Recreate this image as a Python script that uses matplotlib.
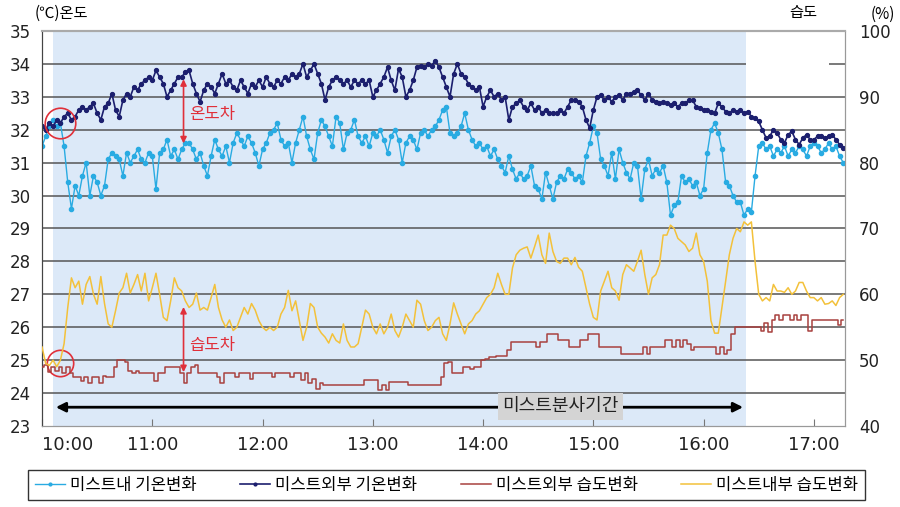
import numpy as np
import matplotlib
matplotlib.use("Agg")
import matplotlib.pyplot as plt

plt.rcParams['font.family'] = ['Noto Sans CJK KR', 'DejaVu Sans']
plt.rcParams['axes.unicode_minus'] = False

# 2분 간격 측정값 (10:00 ~ 17:16)
minutes = np.arange(0, 438, 2)

# 미스트외부 기온 (℃)
temp_out = [
    32.1, 32.0, 32.2, 32.1, 32.3, 32.2, 32.4, 32.5, 32.3, 32.4,
    32.6, 32.7, 32.6, 32.7, 32.8, 32.5, 32.3, 32.7, 32.8, 33.1,
    32.6, 32.4, 32.9, 33.1, 33.0, 33.3, 33.2, 33.4, 33.5, 33.6,
    33.5, 33.8, 33.6, 33.4, 33.0, 33.2, 33.4, 33.6, 33.6, 33.75,
    33.8, 33.4, 33.1, 32.85, 33.2, 33.4, 33.3, 33.1, 33.4, 33.7,
    33.4, 33.5, 33.3, 33.2, 33.5, 33.3, 33.1, 33.4, 33.3, 33.5,
    33.3, 33.6, 33.4, 33.3, 33.5, 33.4, 33.6, 33.5, 33.7, 33.6,
    33.7, 34.0, 33.6, 33.8, 34.0, 33.7, 33.4, 32.9, 33.3, 33.5,
    33.6, 33.5, 33.4, 33.5, 33.3, 33.5, 33.4, 33.5, 33.4, 33.5,
    33.0, 33.2, 33.4, 33.6, 33.9, 33.5, 33.2, 33.85, 33.6, 33.0,
    33.2, 33.5, 33.9, 33.95, 33.9, 34.0, 33.95, 34.1, 33.9, 33.6,
    33.3, 33.0, 33.7, 34.0, 33.7, 33.6, 33.4, 33.3, 33.2, 33.3,
    32.7, 33.0, 33.2, 33.0, 33.1, 32.9, 33.0, 32.3, 32.7, 32.8,
    32.9, 32.7, 32.6, 32.8, 32.6, 32.7, 32.5, 32.6, 32.5, 32.5,
    32.5, 32.6, 32.5, 32.7, 32.9, 32.9, 32.85, 32.7, 32.3, 32.05,
    32.6, 33.0, 33.05, 32.9, 33.0, 32.85, 33.0, 33.05, 32.9, 33.1,
    33.1, 33.15, 33.2, 33.05, 32.9, 33.1, 32.9, 32.85, 32.8, 32.85,
    32.8, 32.75, 32.8, 32.7, 32.8, 32.8, 32.9, 32.9, 32.7, 32.65,
    32.6, 32.6, 32.55, 32.5, 32.8, 32.7, 32.55, 32.5, 32.6, 32.55,
    32.6, 32.5, 32.55, 32.4, 32.35, 32.25, 32.0, 31.75, 31.8, 32.0,
    31.9, 31.7, 31.6, 31.85, 31.95, 31.7, 31.55, 31.75, 31.85, 31.7,
    31.7, 31.8, 31.8, 31.75, 31.8, 31.85, 31.7, 31.55, 31.45,
]

# 미스트내 기온 (℃)
temp_in = [
    31.5, 31.8, 32.1, 32.3, 32.1, 32.2, 31.5, 30.4, 29.6, 30.3,
    30.0, 30.6, 31.0, 30.0, 30.6, 30.4, 30.0, 30.3, 31.1, 31.3,
    31.2, 31.1, 30.6, 31.3, 31.0, 31.2, 31.4, 31.1, 31.0, 31.3,
    31.2, 30.2, 31.3, 31.4, 31.7, 31.2, 31.4, 31.1, 31.4, 31.6,
    31.6, 31.4, 31.1, 31.3, 30.9, 30.6, 31.2, 31.7, 31.4, 31.2,
    31.5, 31.0, 31.6, 31.9, 31.7, 31.5, 31.8, 31.6, 31.3, 30.9,
    31.4, 31.6, 31.9, 32.0, 32.2, 31.7, 31.5, 31.6, 31.0, 31.6,
    32.0, 32.4, 31.8, 31.4, 31.1, 31.9, 32.3, 32.1, 31.8, 31.5,
    32.4, 32.2, 31.4, 31.9, 32.0, 32.3, 31.8, 31.6, 31.8, 31.5,
    31.9, 31.8, 32.0, 31.7, 31.3, 31.8, 32.0, 31.7, 31.0, 31.6,
    31.8, 31.7, 31.4, 31.9, 32.0, 31.8, 32.0, 32.1, 32.3, 32.6,
    32.7, 31.9, 31.8, 31.9, 32.1, 32.5, 32.0, 31.7, 31.5, 31.6,
    31.4, 31.5, 31.2, 31.4, 31.1, 30.9, 30.7, 31.2, 30.8, 30.5,
    30.7, 30.5, 30.6, 30.9, 30.3, 30.2, 29.9, 30.7, 30.3, 29.9,
    30.4, 30.6, 30.5, 30.8, 30.7, 30.5, 30.6, 30.4, 31.2, 31.6,
    32.1, 31.9, 31.1, 30.9, 30.6, 31.3, 30.5, 31.4, 31.0, 30.7,
    30.5, 31.0, 30.9, 29.9, 30.8, 31.1, 30.6, 30.8, 30.7, 30.9,
    30.4, 29.4, 29.7, 29.8, 30.6, 30.4, 30.5, 30.3, 30.4, 30.0,
    30.2, 31.3, 32.0, 32.2, 31.9, 31.4, 30.4, 30.3, 30.0, 29.8,
    29.8, 29.4, 29.6, 29.5, 30.6, 31.5, 31.6, 31.4, 31.5, 31.2,
    31.4, 31.3, 31.5, 31.2, 31.4, 31.3, 31.5, 31.4, 31.2, 31.5,
    31.6, 31.5, 31.3, 31.4, 31.6, 31.4, 31.5, 31.2, 31.0,
]

# 미스트외부 습도 (%)
hum_out = [
    49.0, 49.3, 48.2, 49.0, 48.3, 49.0, 48.0, 49.0, 48.0, 47.4,
    47.4, 46.8, 47.4, 46.6, 47.4, 47.4, 46.5, 47.6, 47.4, 47.4,
    49.0, 50.0, 50.0, 49.7, 48.3, 48.0, 48.3, 48.0, 48.0, 48.0,
    48.0, 46.8, 48.0, 48.0, 49.0, 49.0, 49.0, 49.0, 48.0, 46.6,
    48.0, 49.0, 49.2, 48.0, 48.0, 48.0, 48.0, 48.0, 47.4, 46.5,
    48.0, 48.0, 48.0, 47.4, 48.0, 48.0, 48.0, 47.2, 48.0, 48.0,
    48.0, 48.0, 48.0, 47.4, 48.0, 48.0, 48.0, 48.0, 47.4, 48.0,
    48.0, 47.0, 48.0, 46.5, 47.2, 45.6, 46.5, 46.2, 46.2, 46.2,
    46.2, 46.2, 46.2, 46.2, 46.2, 46.2, 46.2, 46.2, 47.0, 47.0,
    47.0, 47.0, 45.5, 46.2, 45.5, 46.7, 46.7, 46.7, 46.7, 46.7,
    46.2, 46.2, 46.2, 46.2, 46.2, 46.2, 46.2, 46.2, 46.2, 47.4,
    49.5, 49.7, 48.0, 48.0, 48.1, 49.0, 49.0, 48.7, 49.0, 49.0,
    50.0, 50.2, 50.5, 50.5, 50.6, 50.6, 50.6, 51.6, 52.7, 52.7,
    52.7, 52.7, 52.7, 52.7, 52.7, 52.0, 52.7, 52.7, 53.9, 53.9,
    53.9, 53.0, 53.0, 53.0, 52.0, 52.0, 52.0, 53.0, 53.0, 54.0,
    54.0, 53.9, 52.0, 52.0, 52.0, 52.0, 52.0, 52.0, 51.0, 51.0,
    51.0, 51.0, 51.0, 51.0, 52.0, 51.0, 52.0, 52.0, 52.0, 52.0,
    53.0, 53.0, 52.0, 53.0, 52.0, 53.0, 52.5, 51.5, 52.0, 52.0,
    52.0, 52.0, 52.0, 52.0, 51.0, 52.0, 51.0, 51.5, 54.0, 55.0,
    55.0, 55.0, 55.0, 55.0, 55.0, 55.0, 54.5, 55.6, 54.2, 56.1,
    56.8, 56.1, 56.8, 56.8, 56.1, 56.8, 56.1, 56.8, 56.8, 54.5,
    56.1, 56.1, 56.1, 56.1, 56.1, 56.1, 56.1, 55.3, 56.1,
]

# 미스트내부 습도 (%)
hum_in = [
    52.0, 49.5, 49.2, 50.0, 49.0, 50.0, 52.5, 58.0, 62.5, 61.0,
    62.0, 58.5, 61.5, 62.7, 60.0, 58.5, 62.7, 58.6, 55.5, 55.0,
    57.5, 60.2, 61.0, 63.2, 60.2, 61.5, 63.0, 60.5, 63.2, 59.0,
    61.0, 63.2, 60.0, 56.5, 56.0, 59.0, 62.5, 61.0, 60.5, 59.0,
    58.0, 58.5, 60.2, 57.6, 58.0, 57.6, 59.5, 61.5, 58.0, 56.1,
    55.0, 56.1, 54.5, 55.0, 56.5, 58.0, 57.0, 58.6, 57.6, 56.0,
    55.0, 54.5, 55.0, 54.5, 55.0, 57.0, 58.0, 60.6, 57.5, 59.0,
    56.0, 53.0, 55.0, 58.6, 58.0, 55.0, 54.1, 53.5, 52.6, 54.0,
    53.0, 52.6, 55.5, 53.0, 52.0, 52.0, 52.5, 55.0, 57.6, 57.0,
    55.0, 54.0, 55.5, 54.0, 55.0, 57.0, 54.5, 53.5, 55.0, 57.0,
    56.0, 55.0, 59.1, 58.5, 56.0, 54.5, 55.0, 56.0, 56.5, 54.0,
    53.0, 55.5, 58.7, 57.0, 55.5, 54.0, 55.5, 56.0, 57.0, 57.5,
    58.5, 59.5, 60.0, 61.0, 63.2, 61.5, 60.0, 60.0, 64.0, 66.0,
    66.7, 67.0, 67.2, 65.5, 67.2, 69.0, 66.0, 64.7, 69.3, 66.5,
    65.0, 64.7, 65.5, 65.5, 64.5, 65.6, 64.1, 63.5, 61.0, 58.5,
    56.5, 56.1, 60.5, 62.0, 63.5, 61.0, 60.5, 59.1, 63.0, 64.5,
    64.0, 63.5, 65.0, 66.7, 63.0, 60.0, 62.5, 63.0, 64.5, 69.0,
    69.0, 70.5, 70.0, 68.5, 68.0, 67.5, 66.5, 67.0, 69.3, 66.0,
    65.0, 62.0, 56.0, 54.1, 54.1, 58.0, 62.0, 66.0, 68.5, 70.0,
    69.5, 71.0, 70.5, 71.0, 65.0, 60.0, 59.0, 59.5, 59.0, 61.5,
    60.5, 60.5, 60.3, 61.0, 60.0, 60.5, 61.8, 61.8, 60.5, 59.5,
    59.5, 59.0, 59.5, 58.5, 58.6, 59.0, 58.3, 59.5, 60.0,
]

tick_minutes = [0, 60, 120, 180, 240, 300, 360, 420]
tick_labels = ['10:00', '11:00', '12:00', '13:00', '14:00', '15:00', '16:00', '17:00']
mist_start, mist_end = 6, 383

labels = ['미스트내 기온변화', '미스트외부 기온변화', '미스트외부 습도변화', '미스트내부 습도변화']
c_in, c_out, c_hout, c_hin = '#29abe2', '#1c1f6e', '#a8413f', '#f3c13a'

fig = plt.figure(figsize=(9, 5.07), dpi=100)
ax = fig.add_axes([0.0467, 0.1598, 0.8923, 0.7791])
ax2 = ax.twinx()

# 미스트 분사 구간 배경
ax.axvspan(mist_start, mist_end, color='#dce9f8', zorder=0, lw=0)

# 가로 격자선
for t in range(24, 34):
    ax.axhline(t, color='#555555', lw=1.1, zorder=1)
ax.hlines(34, 0, mist_end, color='#555555', lw=1.1, zorder=1)
ax.hlines(34, 428, 437, color='#555555', lw=1.1, zorder=1)

l1, = ax.plot(minutes, temp_in, '-', color=c_in, lw=1.0, marker='o', ms=3.0, zorder=3)
l2, = ax.plot(minutes, temp_out, '-', color=c_out, lw=1.2, marker='o', ms=2.8, zorder=4)
l3, = ax2.plot(minutes, hum_out, color=c_hout, lw=1.1, drawstyle='steps-mid', zorder=3)
l4, = ax2.plot(minutes, hum_in, color=c_hin, lw=1.1, zorder=3)

ax.set_xlim(0, 437)
ax.set_ylim(23, 35)
ax2.set_ylim(40, 100)
ax.set_yticks(range(23, 36))
ax2.set_yticks(range(40, 101, 10))
ax.set_xticks(tick_minutes)
ax.set_xticklabels(tick_labels, family='DejaVu Sans', fontsize=13, color='#222222')
ax.get_xticklabels()[0].set_ha('left')
ax.tick_params(axis='x', direction='in', length=5, color='#777777', pad=7)
ax.tick_params(axis='y', length=0, labelsize=12, labelcolor='#222222', pad=8)
ax2.tick_params(axis='y', length=0, labelsize=12, labelcolor='#222222', pad=10)
for a in (ax, ax2):
    for lab in a.get_yticklabels():
        lab.set_family('DejaVu Sans')

for a in (ax, ax2):
    a.spines['top'].set_color('#aaaaaa')
    a.spines['left'].set_color('#444444')
    a.spines['right'].set_color('#999999')
    a.spines['bottom'].set_color('#999999')
    a.spines['top'].set_linewidth(1.5)

# 미스트 분사기간 화살표
ax.annotate('', xy=(mist_start, 23.57), xytext=(mist_end, 23.57),
            arrowprops=dict(arrowstyle='<|-|>', color='black', lw=2, mutation_scale=14),
            zorder=5)
ax.text(282, 23.6, '미스트분사기간', fontsize=13, ha='center', va='center', color='#222222',
        bbox=dict(boxstyle='square,pad=0.25', fc='#d4d4d4', ec='none'), zorder=6)

# 온도차 / 습도차 표시
red = '#e0303a'
ax.annotate('', xy=(77, 33.62), xytext=(77, 31.5),
            arrowprops=dict(arrowstyle='<|-|>', color=red, lw=1.2, mutation_scale=9), zorder=6)
ax.text(80, 32.45, '온도차', color=red, fontsize=12, va='center', zorder=6)
ax.annotate('', xy=(77, 26.7), xytext=(77, 24.55),
            arrowprops=dict(arrowstyle='<|-|>', color=red, lw=1.2, mutation_scale=9), zorder=6)
ax.text(80, 25.45, '습도차', color=red, fontsize=12, va='center', zorder=6)
ax.plot([10], [32.2], 'o', ms=22, mfc='none', mec=red, mew=1.2, zorder=6)
ax.plot([10], [24.9], 'o', ms=19, mfc='none', mec=red, mew=1.2, zorder=6)

# 축 제목
fig.text(35 / 900, 1 - 13 / 507, '(℃)온도', fontsize=11, va='center', ha='left')
fig.text(803 / 900, 1 - 13 / 507, '습도', fontsize=11, va='center', ha='center')
fig.text(883 / 900, 1 - 14 / 507, '(%)', fontsize=11, va='center', ha='center')

leg = fig.legend([l1, l2, l3, l4], labels, loc='center', ncol=4,
                 bbox_to_anchor=(28 / 900, 0.012, 837 / 900, 0.062), mode='expand',
                 fontsize=12, frameon=True, fancybox=False, handlelength=1.8,
                 handletextpad=0.3, borderaxespad=0)
leg.get_frame().set_edgecolor('black')
leg.get_frame().set_linewidth(1.0)
for h in leg.legend_handles:
    h.set_markersize(2)

fig.savefig('out.png', dpi=100)
